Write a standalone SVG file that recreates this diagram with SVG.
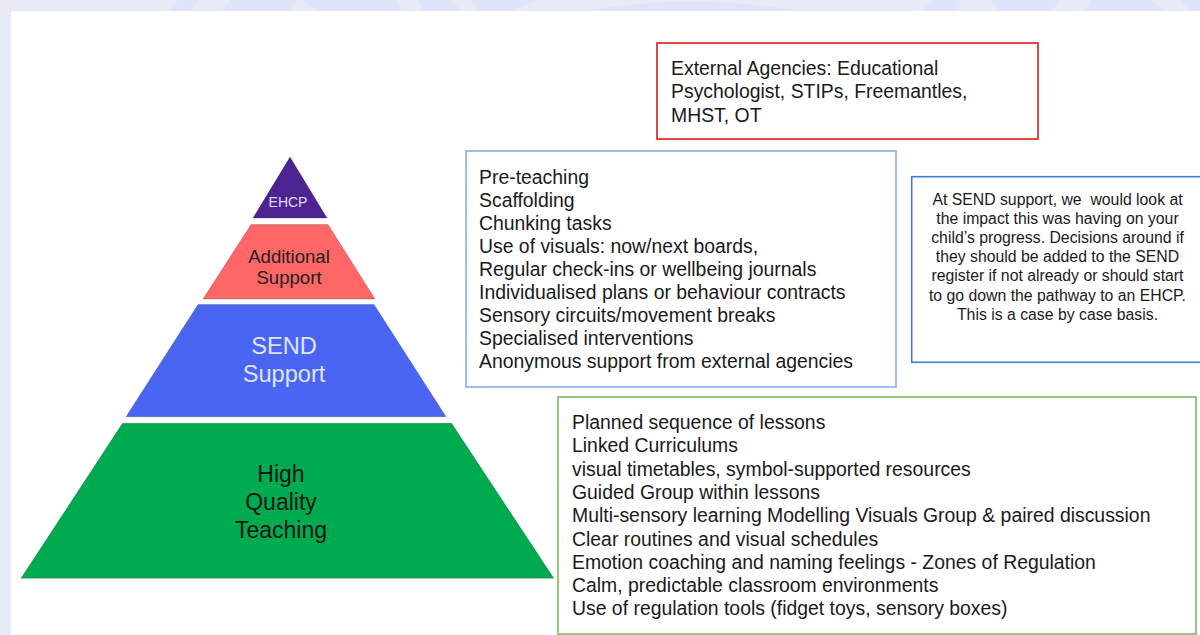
<svg xmlns="http://www.w3.org/2000/svg" width="1200" height="635" viewBox="0 0 1200 635">
  <style>
    .tier { stroke: rgba(0,0,0,0.18); stroke-width: 1; }
    .box { fill: #ffffff; stroke-width: 1.6; }
    .lbl { font-family: "Liberation Sans", Arial, sans-serif; text-anchor: middle; }
    .list { font-family: "Liberation Sans", Arial, sans-serif; font-size: 19.4px; fill: #1a1a1a; }
    .note { font-family: "Liberation Sans", Arial, sans-serif; font-size: 15.8px; fill: #1a1a1a; text-anchor: middle; white-space: pre; }
  </style>
  <!-- background -->
  <rect x="0" y="0" width="1200" height="635" fill="#e8eaf6"/>
  <g fill="#dfe5f8">
    <polygon points="178,0 199,0 190,11 168,11"/>
    <polygon points="230,0 298,0 288,11 222,11"/>
    <polygon points="302,0 395,0 402,11 318,11"/>
    <polygon points="418,0 450,0 462,11 422,11"/>
    <polygon points="470,0 540,0 510,11 478,11"/>
    <path d="M585,11 Q690,-8 800,11 Z"/>
    <polygon points="932,0 960,0 958,11 920,11"/>
    <polygon points="990,0 1060,0 1052,11 1000,11"/>
    <polygon points="1090,0 1150,0 1165,11 1085,11"/>
    <polygon points="1180,0 1200,0 1200,11 1190,11"/>
  </g>
  <rect x="11" y="11" width="1189" height="624" fill="#ffffff"/>

  <!-- pyramid -->
  <g id="tier-ehcp">
    <polygon class="tier" points="290,157 327,218 253,218" fill="#4b2492"/>
    <text class="lbl" x="288" y="207" font-size="14" fill="#e2ddf6">EHCP</text>
  </g>
  <g id="tier-additional">
    <polygon class="tier" points="251,224.5 328,224.5 375,299 203,299" fill="#ff6666"/>
    <text class="lbl" x="289" y="263" font-size="18.6" fill="#222222">Additional</text>
    <text class="lbl" x="289" y="284" font-size="18.6" fill="#222222">Support</text>
  </g>
  <g id="tier-send">
    <polygon class="tier" points="198,304.5 374,304.5 446,416.7 126,416.7" fill="#4a65f2"/>
    <text class="lbl" x="284" y="353.5" font-size="23.6" fill="#dfe5ff">SEND</text>
    <text class="lbl" x="284" y="382" font-size="23.6" fill="#dfe5ff">Support</text>
  </g>
  <g id="tier-hqt">
    <polygon class="tier" points="122.5,423.3 451.6,423.3 553.8,578.3 21,578.3" fill="#00ab4f"/>
    <text class="lbl" x="281" y="481.5" font-size="23" fill="#151515">High</text>
    <text class="lbl" x="281" y="509.5" font-size="23" fill="#151515">Quality</text>
    <text class="lbl" x="281" y="537.5" font-size="23" fill="#151515">Teaching</text>
  </g>

  <!-- external agencies -->
  <g id="box-external">
    <rect class="box" x="657" y="43" width="381" height="96" stroke="#d81c1c"/>
    <text class="list" x="671" y="75">External Agencies: Educational</text>
    <text class="list" x="671" y="98.3">Psychologist, STIPs, Freemantles,</text>
    <text class="list" x="671" y="121.6">MHST, OT</text>
  </g>

  <!-- SEND support strategies -->
  <g id="box-send">
    <rect class="box" x="466" y="151" width="430" height="236" stroke="#86aef0"/>
    <text class="list" x="479" y="183.5">Pre-teaching</text>
    <text class="list" x="479" y="206.6">Scaffolding</text>
    <text class="list" x="479" y="229.7">Chunking tasks</text>
    <text class="list" x="479" y="252.8">Use of visuals: now/next boards,</text>
    <text class="list" x="479" y="275.9">Regular check-ins or wellbeing journals</text>
    <text class="list" x="479" y="299">Individualised plans or behaviour contracts</text>
    <text class="list" x="479" y="322.1">Sensory circuits/movement breaks</text>
    <text class="list" x="479" y="345.2">Specialised interventions</text>
    <text class="list" x="479" y="368.3">Anonymous support from external agencies</text>
  </g>

  <!-- SEND note -->
  <g id="box-note">
    <rect class="box" x="911.7" y="176.7" width="300" height="185.6" stroke="#3f7de0"/>
    <text class="note" x="1057.5" y="205">At SEND support, we  would look at</text>
    <text class="note" x="1057.5" y="224.1">the impact this was having on your</text>
    <text class="note" x="1057.5" y="243.2">child’s progress. Decisions around if</text>
    <text class="note" x="1057.5" y="262.3">they should be added to the SEND</text>
    <text class="note" x="1057.5" y="281.4">register if not already or should start</text>
    <text class="note" x="1057.5" y="300.5">to go down the pathway to an EHCP.</text>
    <text class="note" x="1057.5" y="319.6">This is a case by case basis.</text>
  </g>

  <!-- high quality teaching strategies -->
  <g id="box-hqt">
    <rect class="box" x="558" y="397" width="638" height="237" stroke="#7cb961"/>
    <text class="list" x="572" y="429">Planned sequence of lessons</text>
    <text class="list" x="572" y="452.3">Linked Curriculums</text>
    <text class="list" x="572" y="475.6">visual timetables, symbol-supported resources</text>
    <text class="list" x="572" y="498.9">Guided Group within lessons</text>
    <text class="list" x="572" y="522.2">Multi-sensory learning Modelling Visuals Group &amp; paired discussion</text>
    <text class="list" x="572" y="545.5">Clear routines and visual schedules</text>
    <text class="list" x="572" y="568.8">Emotion coaching and naming feelings - Zones of Regulation</text>
    <text class="list" x="572" y="592.1">Calm, predictable classroom environments</text>
    <text class="list" x="572" y="615.4">Use of regulation tools (fidget toys, sensory boxes)</text>
  </g>

  <g id="connectors"></g>
</svg>
